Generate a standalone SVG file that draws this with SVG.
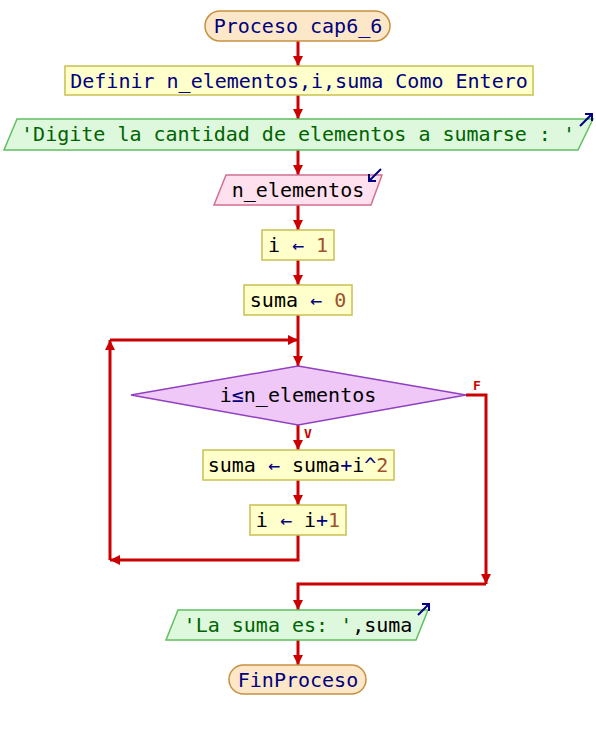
<svg xmlns="http://www.w3.org/2000/svg" width="596" height="730" viewBox="0 0 596 730">
<defs>
<marker id="ah" viewBox="0 0 10 10" refX="10" refY="5" markerWidth="10" markerHeight="10" markerUnits="userSpaceOnUse" orient="auto">
<path d="M0,0 L10,5 L0,10 Z" fill="#cc0000"/>
</marker>
<marker id="io" viewBox="0 0 10 10" refX="9" refY="1" markerWidth="7" markerHeight="7" markerUnits="userSpaceOnUse" orient="0">
<path d="M3,1 L9,1 L9,7" fill="none" stroke="#000080" stroke-width="2"/>
</marker>
</defs>
<style>
text{font-family:"DejaVu Sans Mono","Liberation Mono",monospace;font-size:20px;text-anchor:middle;fill:#000000}
.kw{fill:#000080}
.str{fill:#006400}
.num{fill:#a0522d}
.op{fill:#000080}
.term{fill:#fce8c8;stroke:#c89040;stroke-width:1.5}
.proc{fill:#ffffcc;stroke:#c8c050;stroke-width:1.5}
.out{fill:#ddf8dd;stroke:#60c060;stroke-width:1.5}
.inp{fill:#ffe0ee;stroke:#d07090;stroke-width:1.5}
.dec{fill:#f0c8f8;stroke:#9040c0;stroke-width:1.5}
.c{fill:none;stroke:#cc0000;stroke-width:3}
.lbl{font-family:"DejaVu Sans Mono",monospace;font-size:13px;font-weight:bold;fill:#cc0000}
.ioarrow{stroke:#000080;stroke-width:2;fill:none}
</style>
<g id="connectors">
<path class="c" d="M298,41 V66" marker-end="url(#ah)"/>
<path class="c" d="M298,95 V119" marker-end="url(#ah)"/>
<path class="c" d="M298,150 V175" marker-end="url(#ah)"/>
<path class="c" d="M298,205 V230" marker-end="url(#ah)"/>
<path class="c" d="M298,260 V285" marker-end="url(#ah)"/>
<path class="c" d="M298,315 V366" marker-end="url(#ah)"/>
<path class="c" d="M298,425 V450" marker-end="url(#ah)"/>
<path class="c" d="M298,480 V505" marker-end="url(#ah)"/>
<path class="c" d="M298,535 V560 H110" marker-end="url(#ah)"/>
<path class="c" d="M110,560 V340" marker-end="url(#ah)"/>
<path class="c" d="M110,340 H298" marker-end="url(#ah)"/>
<path class="c" d="M466,395 H486 V584" marker-end="url(#ah)"/>
<path class="c" d="M486,584 H298 V610" marker-end="url(#ah)"/>
<path class="c" d="M298,640 V665" marker-end="url(#ah)"/>
<text class="lbl" x="477" y="390">F</text>
<text class="lbl" x="308" y="438">V</text>
</g>
<g id="start">
<rect class="term" x="205" y="11" width="185" height="30" rx="15"/>
<text x="298" y="33" class="kw">Proceso cap6_6</text>
</g>
<g id="definir">
<rect class="proc" x="65" y="66" width="468" height="29"/>
<text x="299" y="88" class="kw">Definir n_elementos,i,suma Como Entero</text>
</g>
<g id="escribir1">
<polygon class="out" points="17,119 593,119 578,150 4,150"/>
<path class="ioarrow" d="M580,126 L592,114 M585,114 H592 V121"/>
<text x="298" y="141" class="str">'Digite la cantidad de elementos a sumarse : '</text>
</g>
<g id="leer">
<polygon class="inp" points="226,175 382,175 371,205 214,205"/>
<path class="ioarrow" d="M381,169 L369,181 M369,174 V181 H376"/>
<text x="298" y="197">n_elementos</text>
</g>
<g id="asig_i">
<rect class="proc" x="262" y="230" width="72" height="30"/>
<text x="298" y="252">i <tspan class="op">←</tspan> <tspan class="num">1</tspan></text>
</g>
<g id="asig_suma">
<rect class="proc" x="244" y="285" width="108" height="30"/>
<text x="298" y="307">suma <tspan class="op">←</tspan> <tspan class="num">0</tspan></text>
</g>
<g id="mientras">
<polygon class="dec" points="298,366 466,395 298,425 131,395"/>
<text x="298" y="402">i<tspan class="op">≤</tspan>n_elementos</text>
</g>
<g id="acum">
<rect class="proc" x="203" y="450" width="191" height="30"/>
<text x="298" y="472">suma <tspan class="op">←</tspan> suma<tspan class="op">+</tspan>i<tspan class="op">^</tspan><tspan class="num">2</tspan></text>
</g>
<g id="incr">
<rect class="proc" x="250" y="505" width="96" height="30"/>
<text x="298" y="527">i <tspan class="op">←</tspan> i<tspan class="op">+</tspan><tspan class="num">1</tspan></text>
</g>
<g id="escribir2">
<polygon class="out" points="178,610 428,610 416,640 166,640"/>
<path class="ioarrow" d="M418,615 L429,604 M422,604 H429 V611"/>
<text x="298" y="632"><tspan class="str">'La suma es: '</tspan>,suma</text>
</g>
<g id="fin">
<rect class="term" x="229" y="665" width="137" height="29" rx="14.5"/>
<text x="298" y="687" class="kw">FinProceso</text>
</g>
</svg>
